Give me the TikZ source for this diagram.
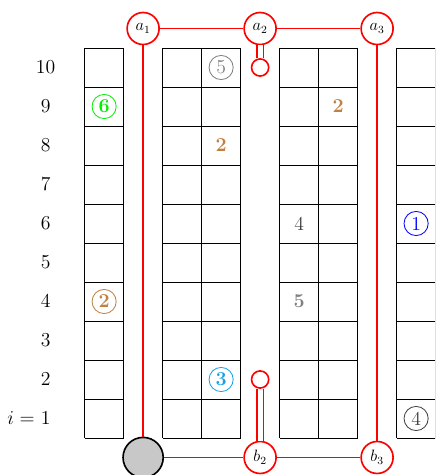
\documentclass[tikz,border=0pt]{standalone}
\usepackage{xcolor}
\usepackage{tikz}
\usepackage{amsmath}
\usetikzlibrary{positioning}
\definecolor{wirered}{HTML}{FF0000}
\definecolor{hubgray}{HTML}{C8C8C8}
\definecolor{markgreen}{HTML}{00F000}
\definecolor{markbrown}{HTML}{BF8040}
\definecolor{markgray}{HTML}{808080}
\definecolor{markcyan}{HTML}{1BA1E2}
\definecolor{markblue}{HTML}{0000FF}
\definecolor{markdark}{HTML}{404040}

\begin{document}
\begin{tikzpicture}[
  x=1cm, y=1cm,
  cell/.style={semithick, black},
  port/.style={circle, draw=wirered, very thick, fill=white, minimum size=0.82cm, inner sep=0pt, font=\large},
  stub/.style={circle, draw=wirered, very thick, fill=white, minimum size=0.44cm, inner sep=0pt},
  hub/.style={circle, draw, very thick, fill=hubgray, minimum size=1.03cm, inner sep=0pt},
  wire/.style={wirered, very thick},
  dbl/.style={wirered, very thick, double=white, double distance=0.13cm},
  rowlbl/.style={font=\Large},
  cnum/.style={circle, draw, semithick, minimum size=0.62cm, inner sep=0pt, font=\Large},
  bnum/.style={cnum, font=\Large\bfseries},
  num/.style={font=\Large}
]
\useasboundingbox (-2.17,-0.949) rectangle (8.985,11.231);
\clip (-2.17,-0.949) rectangle (8.985,11.231);

% grids
\draw[cell] (0,0) grid (1,10);
\draw[cell] (2,0) grid (4,10);
\draw[cell] (5,0) grid (7,10);
\draw[cell] (8,0) grid (10,10);

% row numbers
\node[rowlbl] (r10) at (-1,9.5) {$10$};
\node[rowlbl] (r9) at (-1,8.5) {$9$};
\node[rowlbl] (r8) at (-1,7.5) {$8$};
\node[rowlbl] (r7) at (-1,6.5) {$7$};
\node[rowlbl] (r6) at (-1,5.5) {$6$};
\node[rowlbl] (r5) at (-1,4.5) {$5$};
\node[rowlbl] (r4) at (-1,3.5) {$4$};
\node[rowlbl] (r3) at (-1,2.5) {$3$};
\node[rowlbl] (r2) at (-1,1.5) {$2$};
\node[rowlbl] (r1) at (-1,0.5) {$1$};
\node[rowlbl, left=-2.5pt of r1] (ieq) {$i=$};

% entries
\node[bnum, markgreen] (m6) at (0.5,8.5) {6};
\node[bnum, markbrown] (m2) at (0.5,3.5) {2};
\node[cnum, markgray] (m5) at (3.5,9.5) {5};
\node[num, markbrown, font=\Large\bfseries] (n2a) at (3.5,7.5) {2};
\node[bnum, markcyan] (m3) at (3.5,1.5) {3};
\node[num, markdark] (n4) at (5.5,5.5) {4};
\node[num, markgray, font=\Large\bfseries] (n5) at (5.5,3.5) {5};
\node[num, markbrown, font=\Large\bfseries] (n2b) at (6.5,8.5) {2};
\node[cnum, markblue] (m1) at (8.5,5.5) {1};
\node[cnum, markdark] (m4) at (8.5,0.5) {4};

% red net
\node[port] (a1) at (1.5,10.5) {$a_1$};
\node[port] (a2) at (4.5,10.5) {$a_2$};
\node[port] (a3) at (7.5,10.5) {$a_3$};
\node[hub] (h) at (1.5,-0.5) {};
\node[port] (b2) at (4.5,-0.5) {$b_2$};
\node[port] (b3) at (7.5,-0.5) {$b_3$};
\node[stub] (s1) at (4.5,9.5) {};
\node[stub] (s2) at (4.5,1.5) {};

\draw[wire] (a1) -- (a2) -- (a3);
\draw[wire] (a1) -- (h) -- (b2) -- (b3) -- (a3);
\draw[dbl] (a2) -- (s1);
\draw[dbl] (b2) -- (s2);
\end{tikzpicture}
\end{document}
